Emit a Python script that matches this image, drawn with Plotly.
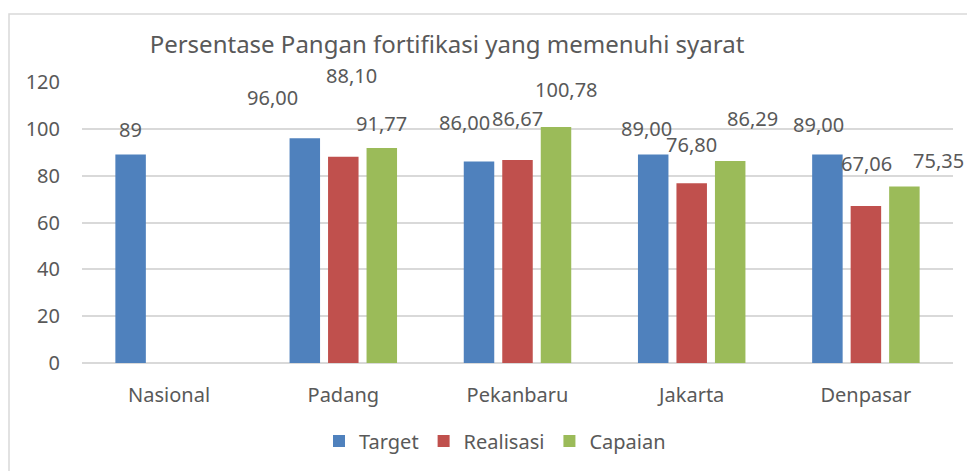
import plotly.graph_objects as go

# ---- data ----
categories = ["Nasional", "Padang", "Pekanbaru", "Jakarta", "Denpasar"]
target = [89, 96.00, 86.00, 89.00, 89.00]
realisasi = [None, 88.10, 86.67, 76.80, 67.06]
capaian = [None, 91.77, 100.78, 86.29, 75.35]
target_decimals = [0, 2, 2, 2, 2]
series_names = ["Target", "Realisasi", "Capaian"]
y_ticks = [0, 20, 40, 60, 80, 100, 120]

# ---- style ----
colors = ["#4F81BD", "#C0504D", "#9BBB59"]
FONT = "Noto Sans"
TXT = "#595959"
GRID = "#D9D9D9"
W, H = 967, 471
ML, MR, MT, MB = 82, 14, 82, 108
SLOT_PX = 38.5
# manual label nudges in pixels (dx, dy-up) per series per category
label_nudges = [
    [(0, 25), (-32, 41), (-15, 39), (-7, 26), (-9, 30)],
    [None, (8, 81), (0, 42), (0, 39), (1, 42)],
    [None, (0, 25), (10, 38), (22, 42), (34, 26)],
]


def fmt(v, dec):
    return f"{v:.{dec}f}".replace(".", ",")


fig = go.Figure()
all_series = [target, realisasi, capaian]
for name, vals, col in zip(series_names, all_series, colors):
    fig.add_trace(go.Bar(
        x=categories, y=vals, name=name,
        marker=dict(color=col, line=dict(width=0)),
        hoverinfo="x+y+name",
    ))

annotations = []
for si, vals in enumerate(all_series):
    for ci, v in enumerate(vals):
        if v is None:
            continue
        dec = target_decimals[ci] if si == 0 else 2
        dx, dy = label_nudges[si][ci]
        annotations.append(dict(
            x=categories[ci], y=v, xref="x", yref="y",
            text=fmt(v, dec), showarrow=False,
            xshift=SLOT_PX * (si - 1) + dx, yshift=dy,
            xanchor="center", yanchor="middle",
            font=dict(family=FONT, size=20, color=TXT),
        ))

pw = W - ML - MR
ph = H - MT - MB
shapes = [dict(
    type="rect", xref="paper", yref="paper", layer="below",
    x0=(9 - ML) / pw, x1=(W + 10 - ML) / pw,
    y0=-(H + 10 - MT - ph) / ph, y1=(MT + ph - 14) / ph,
    line=dict(color=GRID, width=1.5), fillcolor="rgba(0,0,0,0)",
)]

fig.update_layout(
    width=W, height=H,
    margin=dict(l=ML, r=MR, t=MT, b=MB, pad=0, autoexpand=False),
    paper_bgcolor="white", plot_bgcolor="white",
    font=dict(family=FONT, size=20, color=TXT),
    title=dict(
        text="Persentase Pangan fortifikasi yang memenuhi syarat",
        x=447 / W, xanchor="center", xref="container",
        y=1 - 45 / H, yanchor="middle", yref="container",
        font=dict(family=FONT, size=24, color=TXT),
    ),
    barmode="group", bargap=0.337, bargroupgap=0.208,
    xaxis=dict(
        range=[-0.5, len(categories) - 0.5],
        showgrid=False, showline=False, ticks="", automargin=False,
        ticklabelstandoff=18, tickfont=dict(size=20),
    ),
    yaxis=dict(
        range=[0, 120], tickvals=y_ticks, showgrid=True, gridcolor=GRID,
        gridwidth=1.5, zeroline=True, zerolinecolor=GRID, zerolinewidth=1.5,
        showline=False, ticks="", ticklabelstandoff=21, tickfont=dict(size=20),
        automargin=False,
    ),
    legend=dict(
        orientation="h", x=495 / W, xref="container", xanchor="center",
        y=1 - 441 / H, yref="container", yanchor="middle",
        font=dict(size=20), itemwidth=30, traceorder="normal",
    ),
    annotations=annotations,
    shapes=shapes,
    showlegend=True,
)

fig.write_html(
    "out.html",
    config={"displayModeBar": False},
    post_script="document.body.style.margin='0';document.body.style.overflow='hidden';",
)
